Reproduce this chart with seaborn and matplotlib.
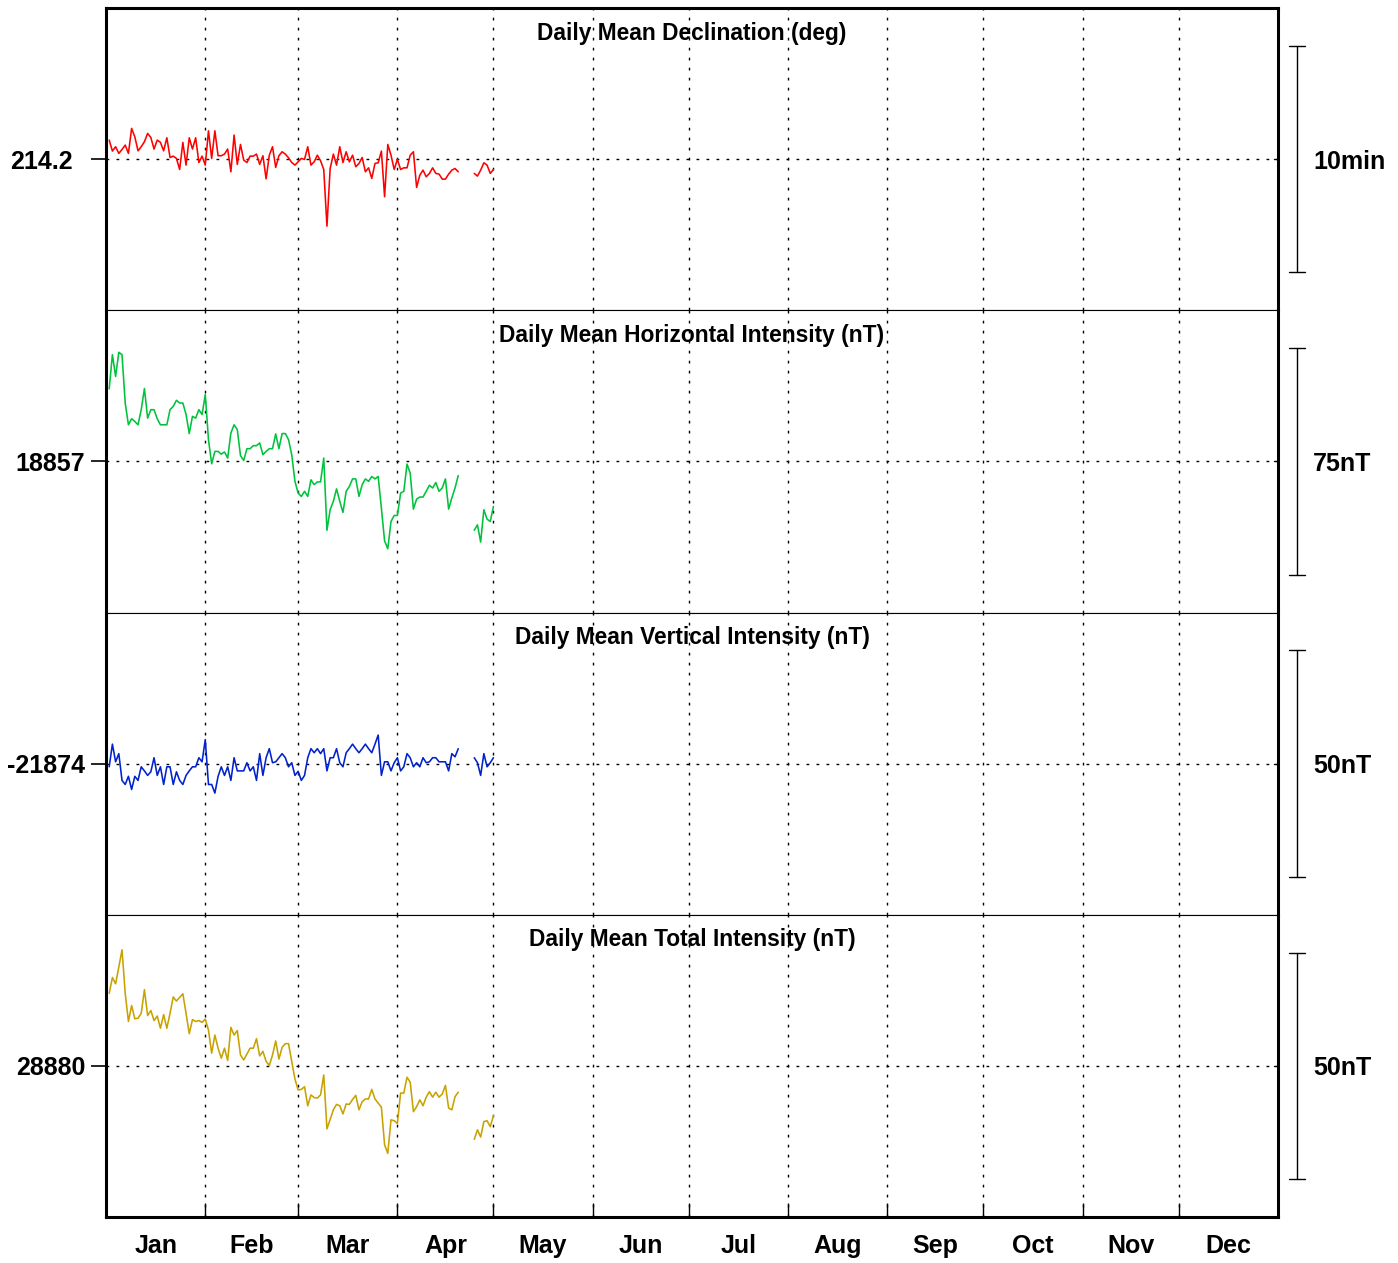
import numpy as np
import pandas as pd
import matplotlib
matplotlib.use("Agg")  # headless backend
import matplotlib.pyplot as plt
import matplotlib.transforms as mtrans
import seaborn as sns

# ── Data ──────────────────────────────────────────────────────────────────────
# day-of-year (leap year), gap on Apr 20-23
days_a = np.arange(1, 111)
days_b = np.arange(115, 122)

decl_a = [
    214.2140, 214.2059, 214.2091, 214.2042, 214.2071, 214.2103, 214.2042, 214.2226, 214.2164, 214.2061,
    214.2091, 214.2128, 214.2189, 214.2159, 214.2074, 214.2140, 214.2123, 214.2061, 214.2157, 214.2012,
    214.2022, 214.2005, 214.1924, 214.2123, 214.1956, 214.2157, 214.2074, 214.2157, 214.1975, 214.2022,
    214.1956, 214.2208, 214.2005, 214.2208, 214.2025, 214.2025, 214.2037, 214.2074, 214.1907, 214.2177,
    214.1961, 214.2108, 214.1993, 214.1975, 214.2022, 214.2022, 214.2037, 214.1961, 214.2025, 214.1855,
    214.2029, 214.2091, 214.1939, 214.2025, 214.2054, 214.2037, 214.2010, 214.1975, 214.1956, 214.1980,
    214.2005, 214.1998, 214.2091, 214.1956, 214.1980, 214.2029, 214.1988, 214.1924, 214.1507, 214.1931,
    214.2037, 214.1956, 214.2091, 214.1975, 214.2054, 214.1980, 214.2029, 214.1944, 214.1968, 214.2012,
    214.1907, 214.1936, 214.1858, 214.1968, 214.1973, 214.2059, 214.1723, 214.2108, 214.2029, 214.1924,
    214.1998, 214.1924, 214.1936, 214.1936, 214.2029, 214.2054, 214.1792, 214.1882, 214.1919, 214.1870,
    214.1895, 214.1936, 214.1895, 214.1890, 214.1853, 214.1853, 214.1890, 214.1919, 214.1931, 214.1907,
]
decl_b = [214.1895, 214.1875, 214.1919, 214.1973, 214.1956, 214.1895, 214.1924]

horiz_a = [
    18881.0, 18892.3, 18885.1, 18893.1, 18892.3, 18876.3, 18869.1, 18871.1, 18870.2, 18869.1,
    18874.1, 18881.1, 18871.3, 18874.1, 18874.1, 18871.1, 18869.1, 18869.1, 18869.1, 18874.1,
    18875.2, 18877.2, 18876.3, 18876.3, 18872.5, 18866.2, 18871.9, 18871.3, 18874.1, 18872.5,
    18879.1, 18864.2, 18856.2, 18860.3, 18860.3, 18859.4, 18860.1, 18858.1, 18866.4, 18869.1,
    18867.5, 18858.9, 18857.3, 18861.2, 18861.2, 18862.2, 18862.2, 18863.1, 18859.2, 18860.3,
    18861.2, 18861.2, 18866.1, 18861.2, 18866.2, 18866.2, 18864.2, 18859.2, 18850.4, 18846.5,
    18845.4, 18847.1, 18845.4, 18850.9, 18849.3, 18850.2, 18850.2, 18858.1, 18834.2, 18841.0,
    18843.8, 18847.9, 18843.8, 18840.1, 18847.1, 18848.7, 18851.2, 18851.2, 18845.4, 18849.3,
    18851.2, 18850.4, 18852.0, 18851.2, 18852.0, 18841.5, 18830.7, 18828.1, 18837.1, 18839.1,
    18839.1, 18846.5, 18847.1, 18856.1, 18853.1, 18841.2, 18844.5, 18845.2, 18845.2, 18847.1,
    18849.1, 18848.2, 18850.0, 18847.1, 18848.2, 18851.2, 18841.2, 18844.9, 18848.2, 18852.3,
]
horiz_b = [18834.2, 18836.0, 18830.3, 18841.0, 18837.9, 18837.1, 18842.1]

vert_a = [
    -21874.7, -21869.7, -21873.6, -21871.8, -21877.7, -21878.6, -21876.8, -21879.7, -21876.8, -21877.7,
    -21874.7, -21875.6, -21876.6, -21875.8, -21872.7, -21876.6, -21874.7, -21878.6, -21874.7, -21874.7,
    -21878.6, -21875.8, -21877.7, -21878.6, -21876.6, -21875.6, -21874.7, -21874.7, -21872.7, -21873.6,
    -21868.7, -21878.6, -21878.6, -21880.5, -21876.8, -21874.7, -21876.6, -21874.7, -21877.7, -21872.7,
    -21875.6, -21875.6, -21875.6, -21873.8, -21875.6, -21874.7, -21877.7, -21871.8, -21876.6, -21872.7,
    -21870.7, -21873.8, -21873.6, -21872.7, -21871.8, -21872.7, -21874.7, -21873.8, -21876.6, -21875.7,
    -21877.7, -21876.6, -21872.7, -21870.7, -21871.6, -21870.7, -21871.8, -21870.7, -21875.6, -21872.7,
    -21872.7, -21870.7, -21873.8, -21874.7, -21871.6, -21870.7, -21869.7, -21870.7, -21871.6, -21870.7,
    -21869.7, -21870.7, -21871.6, -21869.7, -21867.7, -21876.6, -21873.6, -21873.6, -21875.6, -21873.8,
    -21872.7, -21875.6, -21874.7, -21871.8, -21872.7, -21874.7, -21873.8, -21874.7, -21872.7, -21873.8,
    -21873.6, -21872.7, -21872.7, -21873.6, -21873.6, -21873.6, -21875.6, -21871.8, -21872.5, -21870.7,
]
vert_b = [-21872.7, -21873.8, -21876.6, -21871.8, -21874.7, -21873.8, -21872.7]

total_a = [
    28896.0, 28899.5, 28898.1, 28901.8, 28905.6, 28896.0, 28889.8, 28893.3, 28890.4, 28890.5,
    28891.6, 28896.8, 28891.1, 28892.2, 28890.0, 28891.0, 28888.3, 28891.3, 28888.3, 28891.6,
    28895.2, 28894.3, 28895.1, 28895.9, 28891.6, 28887.1, 28890.2, 28889.8, 28890.0, 28889.6,
    28890.3, 28887.9, 28882.8, 28886.8, 28883.9, 28881.7, 28883.9, 28881.2, 28888.5, 28886.8,
    28887.8, 28882.4, 28881.3, 28882.6, 28883.9, 28883.9, 28886.0, 28882.2, 28883.2, 28881.0,
    28880.1, 28882.4, 28885.5, 28881.5, 28884.1, 28884.9, 28884.9, 28881.0, 28877.1, 28874.7,
    28874.8, 28875.4, 28871.2, 28873.6, 28873.0, 28872.9, 28873.6, 28878.0, 28866.1, 28868.2,
    28870.3, 28871.5, 28871.2, 28869.4, 28871.6, 28871.5, 28872.6, 28873.5, 28870.3, 28872.1,
    28872.7, 28872.7, 28874.8, 28872.7, 28871.8, 28870.9, 28862.6, 28860.7, 28868.1, 28867.9,
    28867.3, 28874.0, 28874.0, 28877.5, 28876.4, 28869.9, 28871.0, 28872.5, 28871.2, 28873.1,
    28874.3, 28873.1, 28874.2, 28873.1, 28873.8, 28875.7, 28870.7, 28870.3, 28873.2, 28874.2,
]
total_b = [28863.8, 28865.9, 28864.3, 28867.7, 28867.9, 28866.6, 28869.0]

titles = [
    "Daily Mean Declination (deg)",
    "Daily Mean Horizontal Intensity (nT)",
    "Daily Mean Vertical Intensity (nT)",
    "Daily Mean Total Intensity (nT)",
]
baselines = [214.2, 18857, -21874, 28880]
base_labels = ["214.2", "18857", "-21874", "28880"]
scales = [10 / 60, 75, 50, 50]          # scale bar length in data units
scale_labels = ["10min", "75nT", "50nT", "50nT"]
colors = ["#ff0000", "#00c23c", "#0022cc", "#c8a200"]
series_a = [decl_a, horiz_a, vert_a, total_a]
series_b = [decl_b, horiz_b, vert_b, total_b]

months = ["Jan", "Feb", "Mar", "Apr", "May", "Jun",
          "Jul", "Aug", "Sep", "Oct", "Nov", "Dec"]
month_start = [0, 31, 60, 91, 121, 152, 182, 213, 244, 274, 305, 335, 366]

# ── Style ─────────────────────────────────────────────────────────────────────
sns.set_theme(style="white")
plt.rcParams["font.family"] = ["Liberation Sans", "DejaVu Sans"]
plt.rcParams["text.color"] = "black"
plt.rcParams["xtick.color"] = "black"
plt.rcParams["ytick.color"] = "black"
plt.rcParams["axes.edgecolor"] = "black"

W, H = 1398, 1263
fig, axes = plt.subplots(4, 1, figsize=(W / 100, H / 100), dpi=100, sharex=True)
fig.subplots_adjust(left=106 / W, right=1278 / W, top=1 - 8 / H,
                    bottom=1 - 1217 / H, hspace=0)

DOTS = (2, 5.2)

for i, ax in enumerate(axes):
    df = pd.concat([
        pd.DataFrame({"day": days_a, "value": series_a[i], "seg": 0}),
        pd.DataFrame({"day": days_b, "value": series_b[i], "seg": 1}),
    ])
    base = baselines[i]
    half = scales[i] / 0.75 / 2
    ax.set_xlim(month_start[0], month_start[-1])
    ax.set_ylim(base - half, base + half)

    # dotted grid
    for m in month_start[1:-1]:
        ax.axvline(m, color="black", lw=1.0, dashes=DOTS, zorder=1)
    ax.axhline(base, color="black", lw=1.0, dashes=DOTS, zorder=1)

    sns.lineplot(data=df, x="day", y="value", units="seg", estimator=None,
                 color=colors[i], lw=1.15, ax=ax, zorder=3)
    ax.set_xlabel("")
    ax.set_ylabel("")

    # left tick + label
    ax.set_yticks([base])
    ax.set_yticklabels([base_labels[i]], fontsize=18, fontweight="bold")
    ax.tick_params(axis="y", which="major", direction="out", length=11,
                   width=1.2, left=True, right=False,
                   pad=13 if i == 0 else 4)

    # panel title
    ax.text(0.5, 1 - 25 / 302, titles[i], transform=ax.transAxes,
            ha="center", va="center", fontsize=16.4, fontweight="bold")

    # scale bar on right
    tr = mtrans.blended_transform_factory(ax.transAxes, ax.transData)
    lo, hi = base - scales[i] / 2, base + scales[i] / 2
    ax.plot([1.0162, 1.0162], [lo, hi], transform=tr, color="black",
            lw=1.0, clip_on=False)
    for yy in (lo, hi):
        ax.plot([1.0094, 1.0230], [yy, yy], transform=tr, color="black",
                lw=1.0, clip_on=False)
    ax.plot([0.9962, 1.0], [base, base], transform=tr, color="black",
            lw=1.0, clip_on=False)
    ax.text(1.0299, base, scale_labels[i], transform=tr, ha="left",
            va="center_baseline", fontsize=18, fontweight="bold")

    # frame
    for side in ("left", "right"):
        ax.spines[side].set_linewidth(2.2)
    ax.spines["top"].set_linewidth(2.2 if i == 0 else 0.8)
    ax.spines["bottom"].set_linewidth(2.2 if i == 3 else 0.8)

    if i < 3:
        ax.tick_params(axis="x", which="both", bottom=False, top=False,
                       labelbottom=False)

# month ticks and labels on bottom axis
bx = axes[-1]
mids = [(a + b) / 2 for a, b in zip(month_start[:-1], month_start[1:])]
bx.set_xticks(month_start[1:-1])
bx.set_xticklabels([])
bx.set_xticks(mids, minor=True)
bx.set_xticklabels(months, minor=True, fontsize=18, fontweight="bold",
                   va="baseline")
bx.tick_params(axis="x", which="major", direction="in", length=10,
               width=1.0, bottom=True, top=False)
bx.tick_params(axis="x", which="minor", length=0, pad=26, bottom=True)

fig.savefig("out.png", dpi=100)
plt.close(fig)
